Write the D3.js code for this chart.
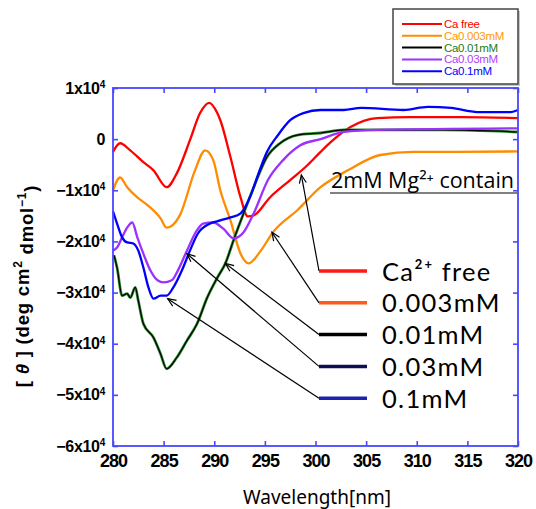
<!DOCTYPE html>
<html>
<head>
<meta charset="utf-8">
<script src="https://cdn.jsdelivr.net/npm/d3@7"></script>
<style>
body { margin: 0; background: #fff; }
</style>
</head>
<body>
<svg id="chart" width="536" height="509"></svg>
<script>
// CD spectra, values in units of 10^3 deg cm2 dmol-1
const caFree = [[280,-2.5],[280.7,-0.8],[281.7,-2.2],[283,-4.5],[284,-6.1],[285.3,-9.4],[286.3,-6.7],
  [287.6,-0.2],[288.6,5.1],[289.5,7.1],[290.3,5.1],[290.6,3.7],[291.6,-3.5],[292.6,-11.4],[293.3,-15.1],
  [293.9,-14.9],[295.5,-11.4],[297.5,-8.0],[299.2,-5.1],[300.5,-2.5],[301.5,-0.6],[303.5,2.4],[306.1,4.1],
  [309.4,4.3],[314.4,4.3],[320,4.1]];
const ca0003 = [[280,-10.0],[280.7,-7.5],[281.4,-9.4],[282.4,-11.4],[283.4,-12.9],[284.7,-15.5],[285.3,-17.3],
  [286.6,-14.9],[288.1,-6.1],[289.1,-2.2],[289.9,-4.1],[290.6,-10.0],[291.6,-15.9],[292.6,-22.4],[293.4,-24.3],
  [294.6,-21.8],[295.8,-18.2],[298.2,-13.9],[300.5,-9.4],[303.2,-6.1],[306.4,-3.1],[309.7,-2.5],[312.7,-2.5],[320,-2.4]];
const ca001 = [[280.1,-22.7],[280.4,-25.1],[280.9,-30.6],[281.4,-30.2],[281.7,-31.0],[282.2,-29.0],[282.5,-31.6],
  [283,-36.1],[284,-38.8],[284.7,-42.0],[285.3,-44.9],[286.3,-42.7],[287.3,-39.4],[288.3,-36.1],[289.3,-31.0],
  [290.3,-27.1],[291.1,-24.3],[291.9,-19.8],[292.9,-14.5],[293.9,-9.4],[295.2,-3.5],[296.5,-0.8],[298.2,0.8],
  [300.5,1.2],[302.8,1.8],[306.1,1.8],[312.7,1.8],[320,1.4]];
const ca003 = [[280,-21.8],[280.4,-21.2],[280.9,-19.2],[281.4,-17.3],[281.9,-16.3],[282.4,-19.2],[283,-22.4],
  [283.7,-25.7],[284.4,-27.6],[285,-28.0],[285.8,-27.6],[286.4,-25.7],[287.3,-21.8],[288.3,-17.8],[288.9,-16.5],
  [289.9,-16.3],[290.9,-17.5],[291.9,-19.4],[292.9,-18.2],[293.9,-14.5],[295.3,-8.0],[296.8,-4.1],[298.5,-1.2],
  [300.5,0],[302.8,1.4],[306.1,1.8],[320,2.1]];
const ca01 = [[280,-14.1],[280.4,-16.5],[280.9,-19.2],[281.4,-20.2],[282,-20.4],[282.5,-21.8],[283,-25.1],
  [283.5,-29.0],[284,-31.2],[284.7,-30.6],[285.3,-30.6],[285.9,-29.2],[286.8,-25.7],[287.6,-21.8],[288.4,-18.4],
  [289.6,-16.5],[290.6,-15.9],[291.6,-15.3],[292.6,-14.5],[293.6,-11.0],[294.3,-7.1],[295.2,-2.5],[296.3,0.8],
  [297.5,3.7],[298.8,5.1],[300.5,5.7],[302.8,5.7],[304.5,6.1],[308.7,5.7],[311.1,6.3],[313.4,6.1],[316,5.3],
  [319.3,5.3],[320,5.7]];

const seriesData = [caFree, ca0003, ca001, ca003, ca01];
const legendNames = ["Ca free", "Ca0.003mM", "Ca0.01mM", "Ca0.03mM", "Ca0.1mM"];
const lineColors = ["#ff0000", "#ff8c00", "#000000", "#9b30ff", "#0000ff"];
const legendTextColors = ["#ff0000", "#ff9900", "#1a7a1a", "#b040ff", "#0000ff"];

const labelNames = ["Ca\u00b2\u207a free", "0.003mM", "0.01mM", "0.03mM", "0.1mM"];
const labelColors = ["#ff1a1a", "#ff5a1a", "#000000", "#101050", "#2020b0"];
// [wavelength, value] where each arrow points
const arrowTargets = [[298.6, -7.0], [295.7, -18.2], [291.1, -24.3], [287.3, -22.4], [285.4, -31.2]];

const xTicks = [280, 285, 290, 295, 300, 305, 310, 315, 320];
const yTicks = [10, 0, -10, -20, -30, -40, -50, -60];

const svg = d3.select("#chart");
const W = 536, H = 509;
const margin = {top: 88, right: 18, bottom: 63, left: 113};
const axisColor = "#4848ff";

const x = d3.scaleLinear().domain([280, 320]).range([margin.left, W - margin.right]);
const y = d3.scaleLinear().domain([-60, 10]).range([H - margin.bottom, margin.top]);

// curves
const line = d3.line()
    .x(d => x(d[0]))
    .y(d => y(d[1]))
    .curve(d3.curveMonotoneX);

const curves = svg.append("g");
seriesData.forEach((s, i) => {
    if (i == 2) {
        curves.append("path").attr("d", line(s)).attr("fill", "none")
            .attr("stroke", "#2e8b2e").attr("stroke-width", 2.8);
        curves.append("path").attr("d", line(s)).attr("fill", "none")
            .attr("stroke", "#000").attr("stroke-width", 1.2);
    } else {
        curves.append("path").attr("d", line(s)).attr("fill", "none")
            .attr("stroke", lineColors[i]).attr("stroke-width", 2.3);
    }
});

// frame and inward ticks
const axBottom = svg.append("g")
    .attr("transform", "translate(0," + (H - margin.bottom) + ")")
    .call(d3.axisBottom(x).tickValues(xTicks).tickSize(-5).tickPadding(8));
const axTop = svg.append("g")
    .attr("transform", "translate(0," + margin.top + ")")
    .call(d3.axisTop(x).tickValues(xTicks).tickSize(-5).tickFormat(""));
const axLeft = svg.append("g")
    .attr("transform", "translate(" + margin.left + ",0)")
    .call(d3.axisLeft(y).tickValues(yTicks).tickSize(-5).tickPadding(8));
const axRight = svg.append("g")
    .attr("transform", "translate(" + (W - margin.right) + ",0)")
    .call(d3.axisRight(y).tickValues(yTicks).tickSize(-5).tickFormat(""));

[axBottom, axTop, axLeft, axRight].forEach(g => {
    g.select(".domain").remove();
    g.selectAll(".tick line").attr("stroke", axisColor).attr("stroke-width", 1.6);
});
svg.append("rect")
    .attr("x", margin.left).attr("y", margin.top)
    .attr("width", W - margin.left - margin.right)
    .attr("height", H - margin.top - margin.bottom)
    .attr("fill", "none").attr("stroke", axisColor).attr("stroke-width", 1.8);

axBottom.selectAll(".tick text")
    .attr("font-family", "Liberation Sans, Arial, sans-serif")
    .attr("font-weight", "bold").attr("font-size", 18)
    .attr("letter-spacing", -1).attr("fill", "#000");

axLeft.selectAll(".tick text").each(function(d) {
    const t = d3.select(this)
        .text(null)
        .attr("font-family", "Liberation Sans, Arial, sans-serif")
        .attr("font-weight", "bold").attr("font-size", 16)
        .attr("letter-spacing", -0.3).attr("fill", "#000");
    if (d == 0) {
        t.append("tspan").text("0");
    } else {
        t.append("tspan").text((d < 0 ? "\u2212" : "") + Math.abs(d / 10) + "x10");
        t.append("tspan").text("4").attr("font-size", 10).attr("dy", "-0.55em");
    }
});

// axis titles
svg.append("text")
    .attr("x", 317).attr("y", 504)
    .attr("text-anchor", "middle")
    .attr("font-family", "Noto Sans, sans-serif")
    .attr("font-size", 19)
    .text("Wavelength[nm]");

const yTitle = svg.append("text")
    .attr("transform", "translate(29,286) rotate(-90)")
    .attr("text-anchor", "middle")
    .attr("font-family", "Liberation Sans, Arial, sans-serif")
    .attr("font-weight", "bold")
    .attr("font-size", 18.5)
    .attr("letter-spacing", 0.8);
yTitle.append("tspan").text("[ ");
yTitle.append("tspan").text("\u03b8").attr("font-style", "italic");
yTitle.append("tspan").text(" ] (deg cm");
yTitle.append("tspan").text("2").attr("font-size", 12).attr("dy", "-0.6em");
yTitle.append("tspan").text(" dmol").attr("dy", "0.6em");
yTitle.append("tspan").text("\u22121").attr("font-size", 12).attr("dy", "-0.6em");
yTitle.append("tspan").text(")").attr("dy", "0.6em");

// legend box (top right)
const lg = svg.append("g");
lg.append("rect").attr("x", 395).attr("y", 11).attr("width", 125).attr("height", 75)
    .attr("fill", "#c8c8c8");
lg.append("rect").attr("x", 393).attr("y", 9).attr("width", 125).attr("height", 75)
    .attr("fill", "#fff").attr("stroke", "#444").attr("stroke-width", 1.5);
legendNames.forEach((n, i) => {
    const ly = 24 + i * 11.8;
    lg.append("line").attr("x1", 402).attr("x2", 442).attr("y1", ly).attr("y2", ly)
        .attr("stroke", lineColors[i]).attr("stroke-width", 2);
    lg.append("text").attr("x", 444).attr("y", ly + 4)
        .attr("font-family", "Liberation Sans, Arial, sans-serif")
        .attr("font-size", 11.5).attr("letter-spacing", -0.3)
        .attr("fill", legendTextColors[i]).text(n);
});

// annotation
svg.append("text")
    .attr("x", 331).attr("y", 188)
    .attr("font-family", "Open Sans, sans-serif")
    .attr("font-size", 21.5)
    .text("2mM Mg\u00b2\u207a contain");
svg.append("line").attr("x1", 330).attr("x2", 517).attr("y1", 193).attr("y2", 193)
    .attr("stroke", "#000").attr("stroke-width", 1);

// labels with leader arrows
const labels = svg.append("g");
labelNames.forEach((n, i) => {
    const ly = 271 + i * 31.8;
    const tx = x(arrowTargets[i][0]), ty = y(arrowTargets[i][1]);
    labels.append("line").attr("x1", 319).attr("y1", ly).attr("x2", tx).attr("y2", ty)
        .attr("stroke", "#000").attr("stroke-width", 1.2);
    const a = Math.atan2(ly - ty, 319 - tx);
    const head = [a - 0.4, a + 0.4].map(b => [tx + 9 * Math.cos(b), ty + 9 * Math.sin(b)]);
    labels.append("path")
        .attr("d", "M" + head[0] + "L" + tx + "," + ty + "L" + head[1])
        .attr("fill", "none").attr("stroke", "#000").attr("stroke-width", 1.2);
    labels.append("line").attr("x1", 319).attr("x2", 367).attr("y1", ly).attr("y2", ly)
        .attr("stroke", labelColors[i]).attr("stroke-width", 3.5);
    labels.append("text").attr("x", 382).attr("y", ly + 9.5)
        .attr("font-family", "Lato, sans-serif").attr("font-size", 25.5)
        .attr("letter-spacing", 1.3)
        .attr("fill", "#000").text(n);
});
</script>
</body>
</html>
